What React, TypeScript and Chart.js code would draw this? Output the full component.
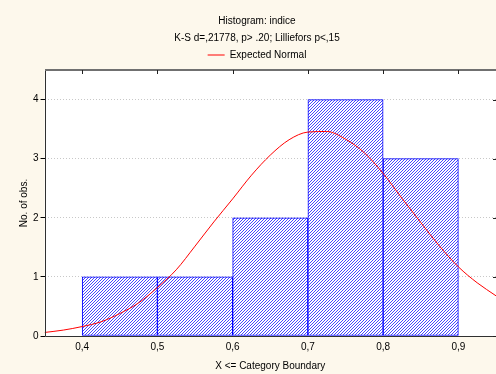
import React, { useEffect, useRef } from "react";
import { Chart, registerables } from "chart.js";

Chart.register(...registerables);

const titleLines = ["Histogram: indice", "K-S d=,21778, p> .20; Lilliefors p<,15"];
const legendLabel = "Expected Normal";
const xTitle = "X <= Category Boundary";
const yTitle = "No. of obs.";

const binEdges = [0.4, 0.5, 0.6, 0.7, 0.8, 0.9];
const binCounts = [1, 1, 2, 4, 3];

const curveX = [0.35, 0.375, 0.4, 0.425, 0.45, 0.475, 0.5, 0.525, 0.55, 0.575, 0.6, 0.625, 0.65, 0.675, 0.7, 0.725, 0.75, 0.775, 0.8, 0.825, 0.85, 0.875, 0.9, 0.925, 0.95];
const curveY = [0.06, 0.1, 0.16, 0.24, 0.38, 0.56, 0.82, 1.12, 1.52, 1.93, 2.32, 2.72, 3.06, 3.32, 3.45, 3.46, 3.33, 3.1, 2.75, 2.33, 1.92, 1.52, 1.17, 0.9, 0.68];

const xTicks = [0.4, 0.5, 0.6, 0.7, 0.8, 0.9];
const yTicks = [0, 1, 2, 3, 4];
const xMin = 0.35;
const xMax = 0.95;
const yMin = 0;
const yMax = 4.5;

const FONT = "'Liberation Sans', Arial, sans-serif";
const BG = "#fdf8ec";

const framePlugin = {
  id: "frame",
  beforeDraw(chart: any) {
    const { ctx, chartArea: a } = chart;
    ctx.save();
    ctx.fillStyle = BG;
    ctx.fillRect(0, 0, chart.width, chart.height);
    ctx.fillStyle = "#ffffff";
    ctx.fillRect(a.left, a.top, a.right - a.left, a.bottom - a.top);
    ctx.restore();
  },
  afterDraw(chart: any) {
    const { ctx, chartArea: a, scales } = chart;
    ctx.save();
    ctx.strokeStyle = "#303030";
    ctx.lineWidth = 1;
    ctx.beginPath();
    ctx.moveTo(Math.round(a.left) + 0.5, Math.round(a.top));
    ctx.lineTo(Math.round(a.left) + 0.5, Math.round(a.bottom) + 0.5);
    ctx.lineTo(chart.width, Math.round(a.bottom) + 0.5);
    ctx.stroke();
    ctx.strokeStyle = "#707070";
    ctx.lineWidth = 2;
    ctx.beginPath();
    ctx.moveTo(Math.round(a.left), Math.round(a.top));
    ctx.lineTo(chart.width, Math.round(a.top));
    ctx.stroke();
    ctx.strokeStyle = "#202020";
    ctx.lineWidth = 1;
    ctx.beginPath();
    xTicks.forEach((v) => {
      const px = Math.round(scales.x.getPixelForValue(v)) + 0.5;
      ctx.moveTo(px, Math.round(a.top));
      ctx.lineTo(px, Math.round(a.top) + 4);
    });
    yTicks.forEach((v) => {
      const py = Math.round(scales.y.getPixelForValue(v)) + 0.5;
      ctx.moveTo(chart.width - 3, py);
      ctx.lineTo(chart.width, py);
    });
    ctx.stroke();
    ctx.restore();
  },
};

export default function App() {
  const ref = useRef<HTMLCanvasElement | null>(null);

  useEffect(() => {
    document.body.style.margin = "0";
    const canvas = ref.current;
    if (!canvas) return;
    const ctx = canvas.getContext("2d")!;

    const pc = document.createElement("canvas");
    pc.width = 3;
    pc.height = 3;
    const pctx = pc.getContext("2d")!;
    pctx.fillStyle = "#ffffff";
    pctx.fillRect(0, 0, 3, 3);
    pctx.fillStyle = "#4848ff";
    pctx.fillRect(2, 0, 1, 1);
    pctx.fillRect(1, 1, 1, 1);
    pctx.fillRect(0, 2, 1, 1);
    const pattern = ctx.createPattern(pc, "repeat");

    const barData = binCounts.map((c, i) => ({ x: (binEdges[i] + binEdges[i + 1]) / 2, y: c }));
    const lineData = curveX.map((x, i) => ({ x, y: curveY[i] }));

    const chart = new Chart(ctx, {
      type: "line",
      data: {
        datasets: [
          {
            type: "bar",
            label: "Histogram",
            data: barData,
            backgroundColor: pattern as any,
            borderColor: "#0000ff",
            borderWidth: 1,
            borderSkipped: false,
            barPercentage: 1,
            categoryPercentage: 1,
            order: 2,
          } as any,
          {
            type: "line",
            label: legendLabel,
            data: lineData,
            borderColor: "#ff0000",
            backgroundColor: "#ff0000",
            borderWidth: 1,
            pointRadius: 0,
            tension: 0.4,
            cubicInterpolationMode: "monotone",
            fill: false,
            order: 1,
          } as any,
        ],
      },
      options: {
        responsive: false,
        animation: false,
        events: [],
        layout: { padding: { left: 18, right: 0, top: 0, bottom: 0 } },
        font: { family: FONT },
        plugins: {
          title: {
            display: true,
            text: titleLines,
            color: "#000",
            font: { family: FONT, size: 10, weight: "normal", lineHeight: "17px" } as any,
            padding: { top: 13, bottom: 1 },
          },
          legend: {
            display: true,
            labels: {
              filter: (item: any) => item.datasetIndex === 1,
              usePointStyle: true,
              pointStyle: "line",
              pointStyleWidth: 17,
              color: "#000",
              font: { family: FONT, size: 10 },
              padding: 2,
            },
          },
          tooltip: { enabled: false },
        },
        scales: {
          x: {
            type: "linear",
            min: xMin,
            max: xMax,
            offset: false,
            afterBuildTicks: (scale: any) => {
              scale.ticks = xTicks.map((v) => ({ value: v }));
            },
            grid: { display: true, offset: false, drawOnChartArea: false, drawTicks: false },
            border: { display: false },
            ticks: {
              padding: 5,
              color: "#000",
              font: { family: FONT, size: 10 },
              maxRotation: 0,
              autoSkip: false,
              callback: (v: any) => Number(v).toFixed(1).replace(".", ","),
            },
            title: {
              display: true,
              text: xTitle,
              color: "#000",
              font: { family: FONT, size: 10, lineHeight: "12px" } as any,
              padding: { top: 2, bottom: 2 },
            },
          },
          y: {
            type: "linear",
            min: yMin,
            max: yMax,
            afterBuildTicks: (scale: any) => {
              scale.ticks = yTicks.map((v) => ({ value: v }));
            },
            grid: {
              color: "#c8c8c8",
              drawTicks: true,
              tickLength: 4,
              tickColor: "#000",
              tickBorderDash: [],
            } as any,
            border: { display: false, dash: [1, 2] },
            ticks: {
              padding: 2,
              color: "#000",
              font: { family: FONT, size: 10 },
              callback: (v: any) => String(v),
            },
            title: {
              display: true,
              text: yTitle,
              color: "#000",
              font: { family: FONT, size: 10, lineHeight: "12px" } as any,
              padding: { top: 0, bottom: 1 },
            },
          },
        },
      } as any,
      plugins: [framePlugin],
    });

    return () => chart.destroy();
  }, []);

  return (
    <div style={{ width: 496, height: 374 }}>
      <canvas ref={ref} width={496} height={374} style={{ display: "block" }} />
    </div>
  );
}
